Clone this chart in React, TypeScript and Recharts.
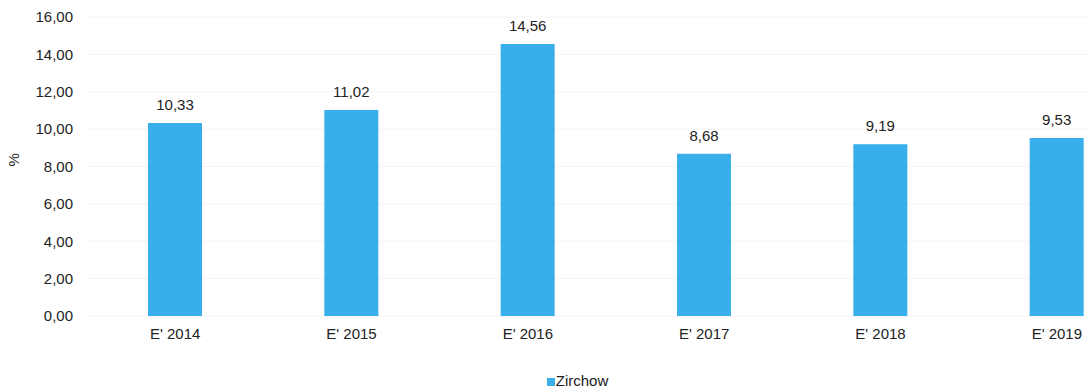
import { Bar, BarChart, CartesianGrid, LabelList, Legend, XAxis, YAxis } from "recharts"

// values
const years = ["E' 2014", "E' 2015", "E' 2016", "E' 2017", "E' 2018", "E' 2019"]
const zirchow = [10.33, 11.02, 14.56, 8.68, 9.19, 9.53]
const yTicks = [0, 2, 4, 6, 8, 10, 12, 14, 16]

const data = years.map((name, i) => ({ name, Zirchow: zirchow[i] }))

const fmt = (v: number) => v.toFixed(2).replace(".", ",")
const font = "'Liberation Sans', Arial, sans-serif"

export default function App() {
  return (
    <div style={{ position: "absolute", left: 0, top: 0, width: 1087, height: 390, overflow: "hidden", background: "#fff" }}>
      <BarChart
        width={1150}
        height={390}
        data={data}
        margin={{ top: 17, right: 5, bottom: 0, left: 0 }}
        style={{ fontFamily: font }}
      >
        <CartesianGrid vertical={false} stroke="#f3f3f3" />
        <XAxis
          dataKey="name"
          axisLine={false}
          tickLine={false}
          tickSize={0}
          tickMargin={12}
          height={56}
          interval={0}
          tick={{ fill: "#222", fontSize: 15 }}
        />
        <YAxis
          width={87}
          domain={[0, 16]}
          ticks={yTicks}
          axisLine={false}
          tickLine={false}
          tickSize={0}
          tickMargin={14}
          tickFormatter={fmt}
          tick={{ fill: "#222", fontSize: 15 }}
          label={{ value: "%", angle: -90, position: "insideLeft", offset: 14, fill: "#222", fontSize: 15 }}
        />
        <Legend
          verticalAlign="bottom"
          align="center"
          iconType="square"
          iconSize={8}
          wrapperStyle={{ left: 10 }}
          formatter={(v) => <span style={{ color: "#222", fontSize: 15, marginLeft: -3 }}>{v}</span>}
        />
        <Bar dataKey="Zirchow" fill="#38aeeb" barSize={54} isAnimationActive={false}>
          <LabelList dataKey="Zirchow" position="top" offset={13} formatter={(v: any) => fmt(Number(v))} fill="#222" fontSize={15} />
        </Bar>
      </BarChart>
    </div>
  )
}
